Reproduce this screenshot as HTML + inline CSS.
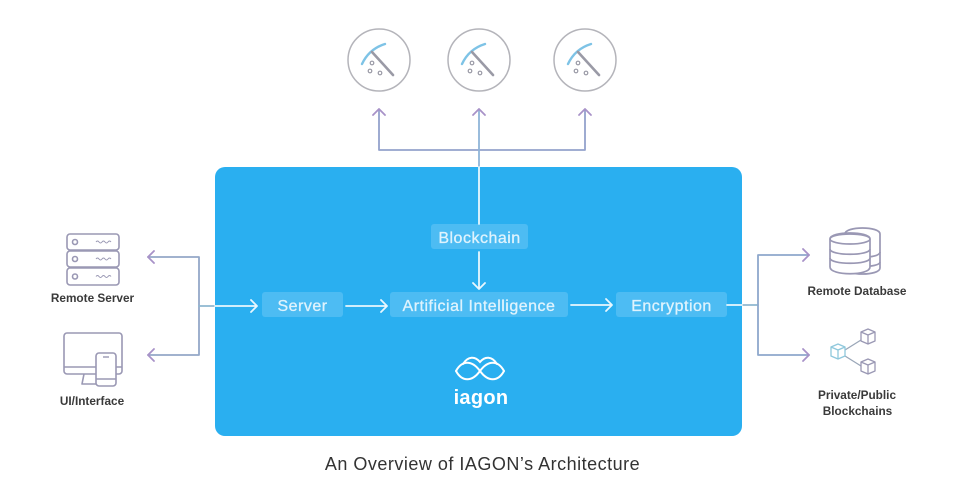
<!DOCTYPE html>
<html><head><meta charset="utf-8"><style>
html,body{margin:0;padding:0;background:#fff;}
svg{display:block;}
text{font-family:"Liberation Sans",Arial,sans-serif;}
</style></head><body>
<svg width="960" height="499" viewBox="0 0 960 499" xmlns="http://www.w3.org/2000/svg">
<rect width="960" height="499" fill="#fff"/>

<!-- top circles -->
<g fill="none" stroke="#b4b4ba" stroke-width="1.5">
<circle cx="379" cy="60" r="31"/>
<circle cx="479" cy="60" r="31"/>
<circle cx="585" cy="60" r="31"/>
</g>
<!-- pickaxes -->
<g id="pick">
<path d="M362,64 Q369,49 385,44" fill="none" stroke="#7ec3e6" stroke-width="2.4" stroke-linecap="round"/>
<path d="M372,52 L393,75" fill="none" stroke="#9a9aa6" stroke-width="2.6" stroke-linecap="round"/>
<g fill="none" stroke="#9a9aa6" stroke-width="1.2">
<circle cx="372" cy="63" r="1.8"/><circle cx="370" cy="71" r="1.8"/><circle cx="380" cy="73" r="1.8"/>
</g>
</g>
<use href="#pick" x="100" y="0"/>
<use href="#pick" x="206" y="0"/>

<!-- top connectors -->
<g fill="none" stroke-width="1.8" stroke-linecap="round" stroke-linejoin="round">
<path d="M379,110 V150 H585 V110" stroke="#94a2cc"/>
<path d="M479,110 V167" stroke="#8fb4d8"/>
<path d="M373,115 L379,109 L385,115" stroke="#a892c8"/>
<path d="M473,115 L479,109 L485,115" stroke="#a892c8"/>
<path d="M579,115 L585,109 L591,115" stroke="#a892c8"/>
</g>

<!-- left connectors -->
<g fill="none" stroke-width="1.8" stroke-linecap="round" stroke-linejoin="round">
<path d="M148,257 H199 V355 H148" stroke="#94a8c8"/>
<path d="M199,306 H215" stroke="#8fb8d0"/>
<path d="M154,251 L148,257 L154,263" stroke="#a892c8"/>
<path d="M154,349 L148,355 L154,361" stroke="#a892c8"/>
</g>

<!-- right connectors -->
<g fill="none" stroke-width="1.8" stroke-linecap="round" stroke-linejoin="round">
<path d="M742,305 H758" stroke="#8fb8d0"/>
<path d="M809,255 H758 V355 H809" stroke="#8ea8cc"/>
<path d="M803,249 L809,255 L803,261" stroke="#a892c8"/>
<path d="M803,349 L809,355 L803,361" stroke="#a892c8"/>
</g>

<!-- main box -->
<rect x="215" y="167" width="527" height="269" rx="10" fill="#2aaff0"/>

<!-- inner boxes -->
<g fill="#4dbcf3">
<rect x="431" y="224" width="97" height="25" rx="3"/>
<rect x="262" y="292" width="81" height="25" rx="3"/>
<rect x="390" y="292" width="178" height="25" rx="3"/>
<rect x="616" y="292" width="111" height="25" rx="3"/>
</g>

<!-- inner connectors -->
<g fill="none" stroke="#e8f7fe" stroke-width="1.8" stroke-linecap="round" stroke-linejoin="round">
<path d="M479,167 V224"/>
<path d="M479,252 V289 M473,283 L479,289 L485,283"/>
<path d="M215,306 H257 M251,300 L257,306 L251,312"/>
<path d="M346,306 H387 M381,300 L387,306 L381,312"/>
<path d="M571,305 H612 M606,299 L612,305 L606,311"/>
<path d="M727,305 H742"/>
</g>

<!-- inner labels -->
<g fill="#dff3fd" font-size="16" letter-spacing="0.5" text-anchor="middle" stroke="#dff3fd" stroke-width="0.3">
<text x="479.5" y="243">Blockchain</text>
<text x="302.5" y="311">Server</text>
<text x="479" y="311">Artificial Intelligence</text>
<text x="671.5" y="311">Encryption</text>
</g>

<!-- iagon logo -->
<g fill="none" stroke="#ffffff" stroke-width="2" stroke-linecap="round">
<path d="M456,371 C462,360 472,360 480,371 C488,382 498,382 504,371"/>
<path d="M456,371 C462,382 472,382 480,371 C488,360 498,360 504,371"/>
<path d="M463,364 C468,356 475,356 480,362 C485,356 492,356 497,364"/>
</g>
<text x="481" y="404" fill="#ffffff" font-size="20" font-weight="bold" letter-spacing="0.3" text-anchor="middle">iagon</text>

<!-- Remote Server icon -->
<g fill="none" stroke="#9a98b4" stroke-width="1.6">
<rect x="67" y="234" width="52" height="16" rx="3"/>
<rect x="67" y="251" width="52" height="16" rx="3"/>
<rect x="67" y="268" width="52" height="17" rx="3"/>
<circle cx="75" cy="242" r="2.5"/><circle cx="75" cy="259" r="2.5"/><circle cx="75" cy="276.5" r="2.5"/>
<path d="M96,242 q1.5,-2 3,0 t3,0 t3,0 t3,0 t3,0" stroke-width="1"/>
<path d="M96,259 q1.5,-2 3,0 t3,0 t3,0 t3,0 t3,0" stroke-width="1"/>
<path d="M96,276.5 q1.5,-2 3,0 t3,0 t3,0 t3,0 t3,0" stroke-width="1"/>
</g>

<!-- UI/Interface icon -->
<g fill="none" stroke="#9a98b4" stroke-width="1.6" stroke-linejoin="round">
<rect x="64" y="333" width="58" height="41" rx="3"/>
<path d="M64,367 H122"/>
<path d="M84,374 L82,384 H100"/>
<rect x="96" y="353" width="20" height="33" rx="3" fill="#fff"/>
<path d="M103,357 H109" stroke-width="1.4"/>
<path d="M96,379 H116"/>
</g>

<!-- Database icon -->
<g fill="#fff" stroke="#9a98b4" stroke-width="1.7">
<path d="M845,234 C845,226 880,226 880,234 V268 C880,276 845,276 845,268 Z"/>
<path d="M845,252 C845,259 880,259 880,252 M845,262 C845,268 880,268 880,262" fill="none"/>
<path d="M830,239 C830,231 870,231 870,239 V267 C870,276 830,276 830,267 Z"/>
<ellipse cx="850" cy="239" rx="20" ry="5" fill="none"/>
<path d="M830,249 C830,256 870,256 870,249 M830,258 C830,265 870,265 870,258" fill="none"/>
</g>

<!-- Blockchains icon -->
<g fill="none" stroke-width="1.3" stroke-linejoin="round">
<path d="M845,350 L861,340 M845,356 L861,366" stroke="#9aa6b8"/>
<g stroke="#8fc8dc">
<path d="M831,347 L838,344 L845,347 V356 L838,359 L831,356 Z M831,347 L838,350 L845,347 M838,350 V359"/>
</g>
<g stroke="#9a98b4">
<path d="M861,332 L868,329 L875,332 V341 L868,344 L861,341 Z M861,332 L868,335 L875,332 M868,335 V344"/>
<path d="M861,362 L868,359 L875,362 V371 L868,374 L861,371 Z M861,362 L868,365 L875,362 M868,365 V374"/>
</g>
</g>

<!-- side labels -->
<g fill="#3a3a3a" font-size="11.8" font-weight="bold" text-anchor="middle">
<text x="92.5" y="302">Remote Server</text>
<text x="92" y="405">UI/Interface</text>
<text x="857" y="295">Remote Database</text>
<text x="857" y="399">Private/Public</text>
<text x="857.5" y="415">Blockchains</text>
</g>

<!-- caption -->
<text x="482.5" y="470" fill="#333" font-size="18" letter-spacing="0.5" text-anchor="middle">An Overview of IAGON’s Architecture</text>
</svg>
</body></html>
